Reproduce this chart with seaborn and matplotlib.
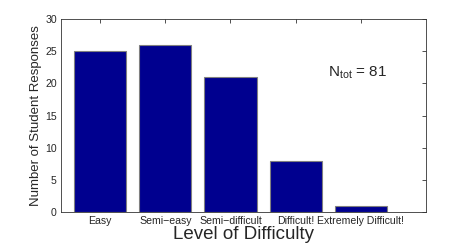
import pandas as pd
import matplotlib
matplotlib.use('Agg')
import matplotlib.pyplot as plt
import seaborn as sns

levels = ['Easy', 'Semi\u2212easy', 'Semi\u2212difficult', 'Difficult!', 'Extremely Difficult!']
responses = [25, 26, 21, 8, 1]
n_total = 81

df = pd.DataFrame({'level': levels, 'count': responses})

sns.set_style('white')
plt.rcParams['font.family'] = ['Liberation Sans', 'DejaVu Sans']
plt.rcParams['mathtext.fontset'] = 'custom'
plt.rcParams['mathtext.rm'] = 'Liberation Sans'
plt.rcParams['mathtext.it'] = 'Liberation Sans'

fig = plt.figure(figsize=(4.71, 2.48), dpi=100)
ax = fig.add_axes([0.1295, 0.145, 0.775, 0.778])

sns.barplot(data=df, x='level', y='count', order=levels, color='#00008f',
            saturation=1, width=0.8, edgecolor='#808080', linewidth=0.8, ax=ax)

ax.set_xlim(-0.6, 5.0)
ax.set_ylim(0, 30)
ax.set_yticks(range(0, 31, 5))
ax.set_xticks(range(len(levels)))
ax.set_xticklabels(levels)

ax.tick_params(direction='in', length=3, width=0.6, top=True, right=True,
               labelsize=7.6, pad=3, color='#333333')
for side in ax.spines.values():
    side.set_visible(True)
    side.set_color('#333333')
    side.set_linewidth(0.6)

ax.set_xlabel('Level of Difficulty', fontsize=13.5, labelpad=0)
ax.set_ylabel('Number of Student Responses', fontsize=9.5, labelpad=2)

ax.text(3.5, 21, r'N$_{\rm tot}$ = ' + str(n_total), fontsize=11, va='baseline', ha='left')

fig.savefig('out.png', dpi=100)
